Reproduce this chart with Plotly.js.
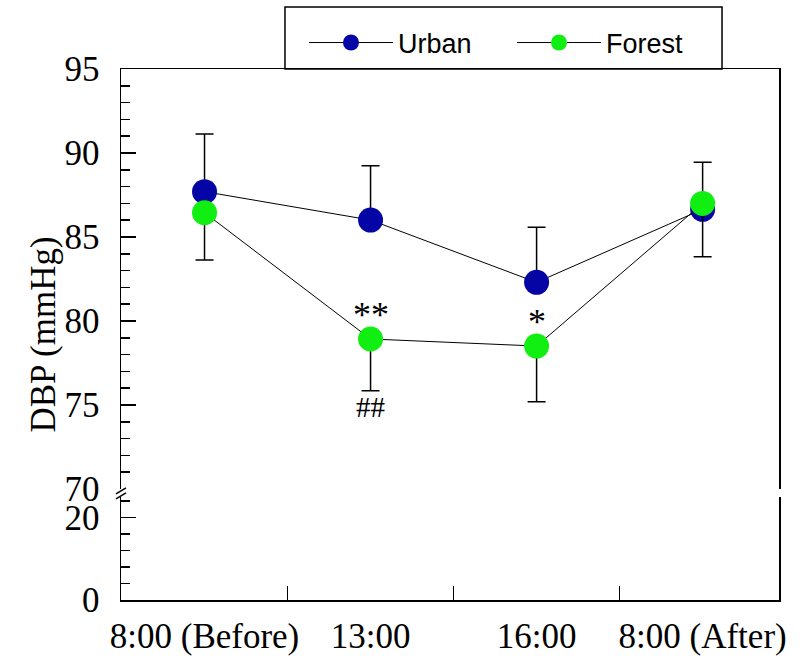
<!DOCTYPE html>
<html>
<head>
<meta charset="utf-8">
<script src="https://cdn.plot.ly/plotly-3.0.1.min.js"></script>
<style>
  html, body { margin: 0; padding: 0; background: #ffffff; }
  #chart { width: 808px; height: 658px; }
</style>
</head>
<body>
<div id="chart"></div>
<script>
// ---- data ----
const timeLabels = ['8:00 (Before)', '13:00', '16:00', '8:00 (After)'];
const urbanDBP   = [87.70, 86.01, 82.30, 86.65];
const urbanSD    = [3.43, 3.23, 3.28, 2.80];
const forestDBP  = [86.45, 78.93, 78.51, 87.00];
const forestSD   = [2.82, 3.08, 3.31, 3.17];
const sigAbove   = ['', '**', '*', ''];
const sigBelow   = ['', '##', '', ''];
const upperTicks = [70, 75, 80, 85, 90, 95];
const lowerTicks = [0, 20];

const zeros = timeLabels.map(() => 0);
const serif = 'Liberation Serif, Times New Roman, serif';

const traces = [
  {
    name: 'Urban', type: 'scatter', mode: 'lines+markers',
    x: timeLabels, y: urbanDBP, xaxis: 'x2', yaxis: 'y',
    line: { color: '#000000', width: 1 },
    marker: { color: '#0505a5', size: 25, line: { width: 0 } },
    error_y: { type: 'data', symmetric: false, array: urbanSD, arrayminus: zeros,
               color: '#000000', thickness: 1.5, width: 9 }
  },
  {
    name: 'Forest', type: 'scatter', mode: 'lines+markers',
    x: timeLabels, y: forestDBP, xaxis: 'x2', yaxis: 'y',
    line: { color: '#000000', width: 1 },
    marker: { color: '#11ee11', size: 25, line: { width: 0 } },
    error_y: { type: 'data', symmetric: false, array: zeros, arrayminus: forestSD,
               color: '#000000', thickness: 1.5, width: 9 }
  },
  {
    // empty lower panel (0-20 part of the broken axis)
    name: 'lower', type: 'scatter', mode: 'markers', showlegend: false, hoverinfo: 'skip',
    x: timeLabels, y: timeLabels.map(() => null), xaxis: 'x', yaxis: 'y2'
  }
];

const annotations = [];
timeLabels.forEach((t, i) => {
  if (sigAbove[i]) annotations.push({
    x: t, y: forestDBP[i], xref: 'x2', yref: 'y', text: sigAbove[i], showarrow: false,
    yshift: 24, font: { family: serif, size: 36, color: '#000' }
  });
  if (sigBelow[i]) annotations.push({
    x: t, y: forestDBP[i] - forestSD[i], xref: 'x2', yref: 'y', text: sigBelow[i], showarrow: false,
    yshift: -16, font: { family: serif, size: 29, color: '#000' }
  });
});
annotations.push({
  x: 0, y: 0.5, xref: 'paper', yref: 'paper', xshift: -78, xanchor: 'center', yanchor: 'middle',
  text: 'DBP (mmHg)', textangle: -90, showarrow: false,
  font: { family: serif, size: 35, color: '#000' }
});

const layout = {
  width: 808, height: 658,
  margin: { l: 121, r: 29, t: 69, b: 58 },
  paper_bgcolor: '#ffffff', plot_bgcolor: '#ffffff',
  showlegend: true,
  legend: {
    orientation: 'h', x: 0.2781, xanchor: 'left', y: 1.049, yanchor: 'middle',
    bgcolor: 'rgba(0,0,0,0)', borderwidth: 0, itemwidth: 84,
    font: { family: 'Liberation Sans, Arial, sans-serif', size: 27, color: '#000' },
    entrywidth: 109, entrywidthmode: 'pixels'
  },
  xaxis: {
    type: 'category', categoryorder: 'array', categoryarray: timeLabels,
    range: [-0.503, 3.46], anchor: 'y2', domain: [0, 1],
    showline: true, linecolor: '#000', linewidth: 1.5,
    ticks: 'inside', tickson: 'boundaries', ticklen: 14, tickwidth: 1.5, tickcolor: '#000',
    showgrid: false, zeroline: false, tickangle: 0,
    tickfont: { family: serif, size: 35, color: '#000' }, ticklabelstandoff: 4
  },
  xaxis2: {
    type: 'category', categoryorder: 'array', categoryarray: timeLabels,
    matches: 'x', anchor: 'y', side: 'top', overlaying: 'x',
    showline: true, linecolor: '#000', linewidth: 1.5,
    ticks: '', showticklabels: false, showgrid: false, zeroline: false
  },
  yaxis: {
    domain: [0.209, 1], range: [70, 95], anchor: 'x2',
    showline: true, mirror: true, linecolor: '#000', linewidth: 1.5,
    tickmode: 'array', tickvals: upperTicks,
    ticks: 'inside', ticklen: 15, tickwidth: 1.5, tickcolor: '#000',
    minor: { dtick: 1, tick0: 0, ticks: 'inside', ticklen: 9, tickwidth: 1.5, tickcolor: '#000', showgrid: false },
    showgrid: false, zeroline: false,
    tickfont: { family: serif, size: 35, color: '#000' }, ticklabelstandoff: 13
  },
  yaxis2: {
    domain: [0, 0.194], range: [0, 25], anchor: 'x',
    showline: true, mirror: true, linecolor: '#000', linewidth: 1.5,
    tickmode: 'array', tickvals: lowerTicks,
    ticks: 'inside', ticklen: 15, tickwidth: 1.5, tickcolor: '#000',
    minor: { dtick: 4, tick0: 0, ticks: 'inside', ticklen: 9, tickwidth: 1.5, tickcolor: '#000', showgrid: false },
    showgrid: false, zeroline: false,
    tickfont: { family: serif, size: 35, color: '#000' }, ticklabelstandoff: 13
  },
  shapes: [
    // legend frame
    { type: 'rect', xref: 'paper', yref: 'paper', x0: 0.2492, x1: 0.9134, y0: 1, y1: 1.1168,
      line: { color: '#000', width: 1.5 }, fillcolor: 'rgba(0,0,0,0)', layer: 'below' },
    // axis break marks
    { type: 'line', xref: 'paper', yref: 'paper', xsizemode: 'pixel', ysizemode: 'pixel',
      xanchor: 0, yanchor: 0.2000, x0: -5, x1: 5, y0: 0, y1: 6, line: { color: '#000', width: 1.5 } },
    { type: 'line', xref: 'paper', yref: 'paper', xsizemode: 'pixel', ysizemode: 'pixel',
      xanchor: 0, yanchor: 0.2000, x0: -5, x1: 5, y0: -5, y1: 1, line: { color: '#000', width: 1.5 } }
  ],
  annotations: annotations
};

Plotly.newPlot('chart', traces, layout, { displayModeBar: false, staticPlot: true });
</script>
</body>
</html>
